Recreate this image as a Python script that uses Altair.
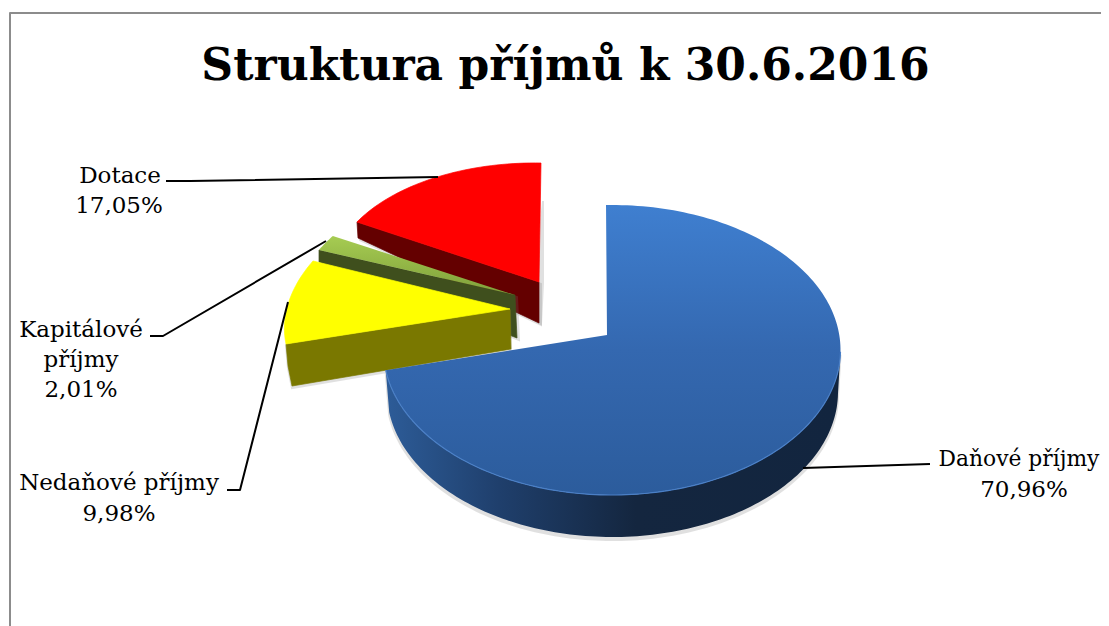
import math
import altair as alt
import pandas as pd

TITLE = "Struktura příjmů k 30.6.2016"
CATEGORIES = ["Daňové příjmy", "Nedaňové příjmy", "Kapitálové příjmy", "Dotace"]
SHARES = [70.96, 9.98, 2.01, 17.05]
LABELS = ["70,96%", "9,98%", "2,01%", "17,05%"]

# Text rows
TEXT_X = [1024, 119, 119, 81, 81, 81, 120, 119]
TEXT_Y = [497, 490, 521, 337, 367, 397, 183, 213]
TEXT_T = [LABELS[0], "Nedaňové příjmy", LABELS[1], "Kapitálové", "příjmy", LABELS[2], "Dotace", LABELS[3]]

# Leader lines (page pixels)
LEADERS = [
    [[803, 468], [930, 464]],
    [[227, 490], [240, 490], [288, 302]],
    [[150, 336], [163, 336], [326, 241]],
    [[166, 181], [190, 181], [438, 177]],
]
FRAME = [[1109, 13], [10, 13], [10, 626]]

cum = [0]
for s in SHARES:
    cum.append(cum[-1] + s)
ang = [c * 3.6 for c in cum]


def arc(c, m, t1, t2, n=80, warp=(0, 1)):
    pts = []
    for i in range(n + 1):
        t = math.radians(warp[0] + warp[1] * (t1 + (t2 - t1) * i / n))
        s, co = math.sin(t), math.cos(t)
        pts.append([c[0] + m[0] * s + m[1] * co, c[1] + m[2] * s + m[3] * co])
    return pts


def poly(pts):
    return {"type": "Feature", "properties": {},
            "geometry": {"type": "Polygon", "coordinates": [pts + [pts[0]]]}}


def line(pts):
    return {"type": "Feature", "properties": {},
            "geometry": {"type": "LineString", "coordinates": pts}}


def shift(pts, dx, dy):
    return [[x + dx, y + dy] for x, y in pts]


PROJ = dict(type="identity", scale=1, translate=[-8, -8])


def vgrad(stops, x=False):
    return {"gradient": "linear", "x1": 0, "y1": 0, "x2": 1 if x else 0, "y2": 0 if x else 1,
            "stops": [{"offset": s[0], "color": s[1]} for s in stops]}


def shape(feature, fill, stroke=None, sw=0.7, opacity=1):
    stroke = stroke or (fill if isinstance(fill, str) else "transparent")
    return alt.Chart(alt.Data(values=[feature])).mark_geoshape(
        fill=fill, stroke=stroke, strokeWidth=sw, opacity=opacity
    ).project(**PROJ)


def stroke_line(pts, color="#000000", w=2):
    return alt.Chart(alt.Data(values=[line(pts)])).mark_geoshape(
        filled=False, stroke=color, strokeWidth=w, strokeCap="butt", strokeJoin="round"
    ).project(**PROJ)


def shadow(pts, dx=2, dy=2):
    return shape(poly(shift(pts, dx, dy)), "#777777", "#777777", 2, 0.22)


layers = []
layers.append(stroke_line(FRAME, "#8c8c8c", 2))

# Dotace (red)
A = [539, 282]
top = arc(A, (208.5, 2, 3.4, -119), ang[3], ang[4], 40)
red_top = [A] + top
red_wall = [[357, 222], A, [539, 323], [358, 238]]
layers += [shadow([[541, 200], [541, 282], [539, 323], [530, 318]], 2, 1), shadow(red_wall, 2, 2),
           shape(poly(red_wall), "#640000"), shape(poly(red_top), "#ff0000")]

# Kapitálové (green)
A = [515, 295]
top = arc(A, (218.4, 20, 0.4, -122.5), ang[2], ang[3], 12)
green_top = [A] + top
green_wall = [[319, 250], A, [517, 338], [319, 262]]
layers += [shadow(green_wall, 2, 2), shape(poly(green_wall), "#3f4f1d"),
           shape(poly(green_top), vgrad([(0, "#a6cc52"), (1, "#7f9f3a")]))]

# Nedaňové (yellow)
A = [510, 309]
top = arc(A, (223.5, 30.5, -1.2, -134.7), ang[1], ang[2], 30)
yellow_top = [A] + top
yellow_wall = [[286, 344], A, [511, 349], [292, 386], [288, 366]]
layers += [shadow(yellow_wall, 0, 2), shape(poly(yellow_wall), "#7a7800"), shape(poly(yellow_top), "#ffff00")]

# Daňové (blue)
A = [607, 335]
C = [612, 350]
M = (228.5, 0, 0, -145)
WARP = (-1.5, 263.5 / ang[1])
top = arc(C, M, ang[0], ang[1], 200, WARP)
blue_top = [A] + top
front = [p for p in top if p[1] >= 349]
lower = arc([612.5, 392], (225.5, 0, 0, -145), ang[0], ang[1], 200, WARP)
lower = [p for p in lower if p[1] >= 391]
blue_wall = front + lower[::-1]
layers += [shadow(blue_wall, 0, 3),
           shape(poly(blue_wall), vgrad([(0, "#2d5c98"), (0.25, "#1f3f6c"), (0.55, "#14263f"), (1, "#12253f")], True)),
           shape(poly(blue_top), vgrad([(0, "#3f7fd0"), (0.5, "#3468b0"), (1, "#2c5c9c")])),
           stroke_line(front, "#4a7fc6", 1.2)]

for pts in LEADERS:
    layers.append(stroke_line(pts))

df = pd.DataFrame({"x": TEXT_X, "y": TEXT_Y, "t": TEXT_T})
layers.append(alt.Chart(df).mark_text(
    font="DejaVu Serif", fontSize=23, color="#000000", align="center", baseline="alphabetic"
).encode(longitude="x:Q", latitude="y:Q", text="t:N").project(**PROJ))

ddf = pd.DataFrame({"x": [1019], "y": [466], "t": [CATEGORIES[0]]})
layers.append(alt.Chart(ddf).mark_text(
    font="DejaVu Serif", fontSize=21.8, color="#000000", align="center", baseline="alphabetic"
).encode(longitude="x:Q", latitude="y:Q", text="t:N").project(**PROJ))

tdf = pd.DataFrame({"x": [565.5], "y": [80], "t": [TITLE]})
layers.append(alt.Chart(tdf).mark_text(
    font="DejaVu Serif", fontSize=44, fontWeight="bold", color="#000000", align="center", baseline="alphabetic"
).encode(longitude="x:Q", latitude="y:Q", text="t:N").project(**PROJ))

chart = alt.layer(*layers).properties(
    width=1093, height=618, padding=0, background="#ffffff", autosize=alt.AutoSizeParams(type="none")
).configure_view(strokeWidth=0)

chart.save("out.html", embed_options={"renderer": "svg", "actions": False})
